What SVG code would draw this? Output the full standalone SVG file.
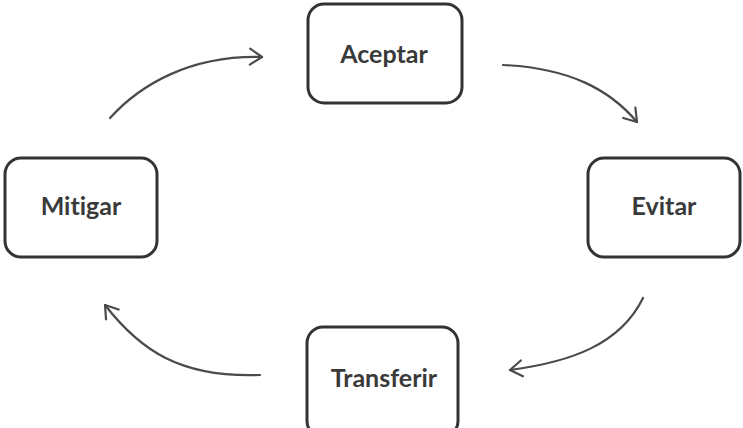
<svg xmlns="http://www.w3.org/2000/svg" width="743" height="428" viewBox="0 0 743 428">
  <style>
    .box { fill: #ffffff; stroke: #333333; stroke-width: 3; }
    .label { font-family: Lato, "Open Sans", "Liberation Sans", sans-serif; font-weight: 700; font-size: 25px; fill: #3a3a3a; text-anchor: middle; font-variant-ligatures: none; font-feature-settings: "liga" 0, "dlig" 0; }
    .conn { fill: none; stroke: #4a4a4a; stroke-width: 2.2; stroke-linecap: round; marker-end: url(#head); }
  </style>
  <defs>
    <marker id="head" viewBox="-14 -10 16 20" markerWidth="16" markerHeight="20" refX="0" refY="0" orient="auto" markerUnits="userSpaceOnUse">
      <path d="M-12,-8 L0,0 L-12,8" fill="none" stroke="#4a4a4a" stroke-width="2.2" stroke-linecap="round" stroke-linejoin="round"/>
    </marker>
  </defs>
  <rect width="743" height="428" fill="#ffffff"/>

  <g id="connectors">
    <path class="conn" d="M110,118 C140,85 190,55 262,57"/>
    <path class="conn" d="M503,65 C570,68 610,90 637,122"/>
    <path class="conn" d="M643,298 C620,345 570,362 510,370"/>
    <path class="conn" d="M260,375 C180,378 140,350 105,305"/>
  </g>

  <g id="aceptar">
    <rect class="box" x="308" y="4" width="154" height="99" rx="16"/>
    <text class="label" x="384" y="63">Aceptar</text>
  </g>
  <g id="evitar">
    <rect class="box" x="588" y="158" width="152" height="99" rx="16"/>
    <text class="label" x="664" y="215">Evitar</text>
  </g>
  <g id="mitigar">
    <rect class="box" x="5" y="158" width="152" height="99" rx="16"/>
    <text class="label" x="81" y="215">Mitigar</text>
  </g>
  <g id="transferir">
    <rect class="box" x="307" y="327" width="151" height="110" rx="16"/>
    <text class="label" x="384" y="387">Transferir</text>
  </g>
</svg>
